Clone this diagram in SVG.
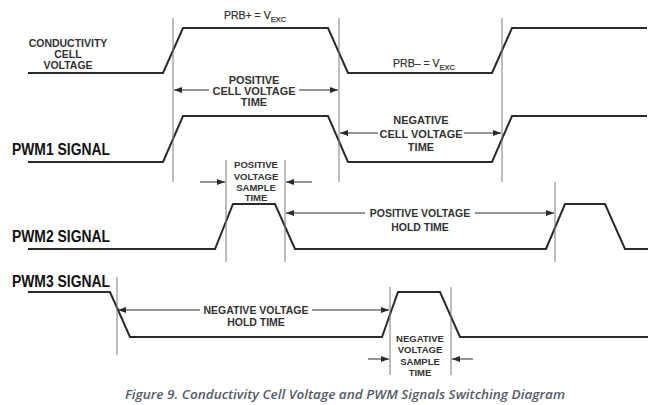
<svg xmlns="http://www.w3.org/2000/svg" width="654" height="405" viewBox="0 0 654 405">
<style>
.wave{fill:none;stroke:#2a2a2a;stroke-width:2;stroke-linejoin:miter}
.ref{stroke:#7a7a7a;stroke-width:1}
.dim{fill:none;stroke:#2a2a2a;stroke-width:1;marker-end:url(#ah)}
.lbl{font-family:"Liberation Sans",Arial,sans-serif;font-weight:bold;font-size:10.5px;fill:#333;text-anchor:middle}
.big{font-size:11px}
.box{font-size:9.5px}
.sig{font-family:"Liberation Sans",Arial,sans-serif;font-weight:bold;font-size:16px;fill:#111}
.prb{font-family:"Liberation Sans",Arial,sans-serif;font-size:10.5px;fill:#333;text-anchor:middle;stroke:#333;stroke-width:0.25}
.cap{font-family:"Open Sans","Liberation Sans",sans-serif;font-style:italic;font-weight:600;font-size:12px;fill:#545b6b}
</style>
<defs>
<marker id="ah" markerUnits="userSpaceOnUse" markerWidth="9" markerHeight="6" refX="8" refY="3" orient="auto">
<path d="M0,0 L8,3 L0,6 z" fill="#2a2a2a"/>
</marker>
</defs>
<rect width="654" height="405" fill="#fff"/>

<g id="ccv">
<path class="wave" d="M28,73 H163 L183,28 H328 L348,73 H492 L512,28 H647"/>
<text class="lbl" x="68" y="47">CONDUCTIVITY</text>
<text class="lbl" x="68" y="58">CELL</text>
<text class="lbl" x="68" y="69">VOLTAGE</text>
<text class="prb" x="255" y="19">PRB+ = V<tspan font-size="7.5" dy="2.5">EXC</tspan></text>
<text class="prb" x="424" y="67">PRB– = V<tspan font-size="7.5" dy="2.5">EXC</tspan></text>
</g>

<g id="pwm1">
<text class="sig" x="12" y="155" textLength="98" lengthAdjust="spacingAndGlyphs">PWM1 SIGNAL</text>
<path class="wave" d="M28,162 H163 L183,116 H328 L348,162 H492 L512,116 H647"/>
</g>

<g id="pwm2">
<text class="sig" x="12" y="242" textLength="98" lengthAdjust="spacingAndGlyphs">PWM2 SIGNAL</text>
<path class="wave" d="M28,249 H215 L233,204 H275 L295,249 H546 L565,204 H605 L625,249 H648"/>
</g>

<g id="pwm3">
<text class="sig" x="12" y="287" textLength="98" lengthAdjust="spacingAndGlyphs">PWM3 SIGNAL</text>
<path class="wave" d="M28,292 H110 L130,337 H382 L398,292 H440 L460,337 H648"/>
</g>

<g id="reflines">
<line class="ref" x1="173" y1="18" x2="173" y2="182"/>
<line class="ref" x1="339" y1="18" x2="339" y2="182"/>
<line class="ref" x1="502" y1="18" x2="502" y2="182"/>
<line class="ref" x1="226" y1="160" x2="226" y2="262"/>
<line class="ref" x1="285" y1="160" x2="285" y2="262"/>
<line class="ref" x1="555" y1="182" x2="555" y2="262"/>
<line class="ref" x1="117" y1="277" x2="117" y2="355"/>
<line class="ref" x1="390" y1="287" x2="390" y2="375"/>
<line class="ref" x1="451" y1="287" x2="451" y2="375"/>
</g>

<g id="pos-cell-time">
<text class="lbl big" x="254" y="84">POSITIVE</text>
<text class="lbl big" x="254" y="95">CELL VOLTAGE</text>
<text class="lbl big" x="254" y="106">TIME</text>
</g>
<g id="neg-cell-time">
<text class="lbl big" x="421" y="124">NEGATIVE</text>
<text class="lbl big" x="421" y="137.5">CELL VOLTAGE</text>
<text class="lbl big" x="421" y="151">TIME</text>
</g>
<g id="pos-sample">
<text class="lbl box" x="256" y="168">POSITIVE</text>
<text class="lbl box" x="256" y="179.5">VOLTAGE</text>
<text class="lbl box" x="256" y="191">SAMPLE</text>
<text class="lbl box" x="256" y="201">TIME</text>
</g>
<g id="pos-hold">
<text class="lbl" x="420" y="217">POSITIVE VOLTAGE</text>
<text class="lbl" x="420" y="231">HOLD TIME</text>
</g>
<g id="neg-hold">
<text class="lbl" x="256" y="314">NEGATIVE VOLTAGE</text>
<text class="lbl" x="256" y="326">HOLD TIME</text>
</g>
<g id="neg-sample">
<text class="lbl box" x="420" y="342">NEGATIVE</text>
<text class="lbl box" x="420" y="353">VOLTAGE</text>
<text class="lbl box" x="420" y="365">SAMPLE</text>
<text class="lbl box" x="420" y="376">TIME</text>
</g>

<g id="connectors">
<path class="dim" d="M209,90 H174"/>
<path class="dim" d="M299,90 H338"/>
<path class="dim" d="M378,133 H340"/>
<path class="dim" d="M464,133 H501"/>
<path class="dim" d="M200,182 H225"/>
<path class="dim" d="M312,182 H286"/>
<path class="dim" d="M365,213 H286"/>
<path class="dim" d="M475,213 H554"/>
<path class="dim" d="M200,310 H118"/>
<path class="dim" d="M312,310 H389"/>
<path class="dim" d="M368,359 H389"/>
<path class="dim" d="M473,359 H452"/>
</g>

<text class="cap" x="125" y="399" textLength="440" lengthAdjust="spacingAndGlyphs">Figure 9. Conductivity Cell Voltage and PWM Signals Switching Diagram</text>
</svg>
